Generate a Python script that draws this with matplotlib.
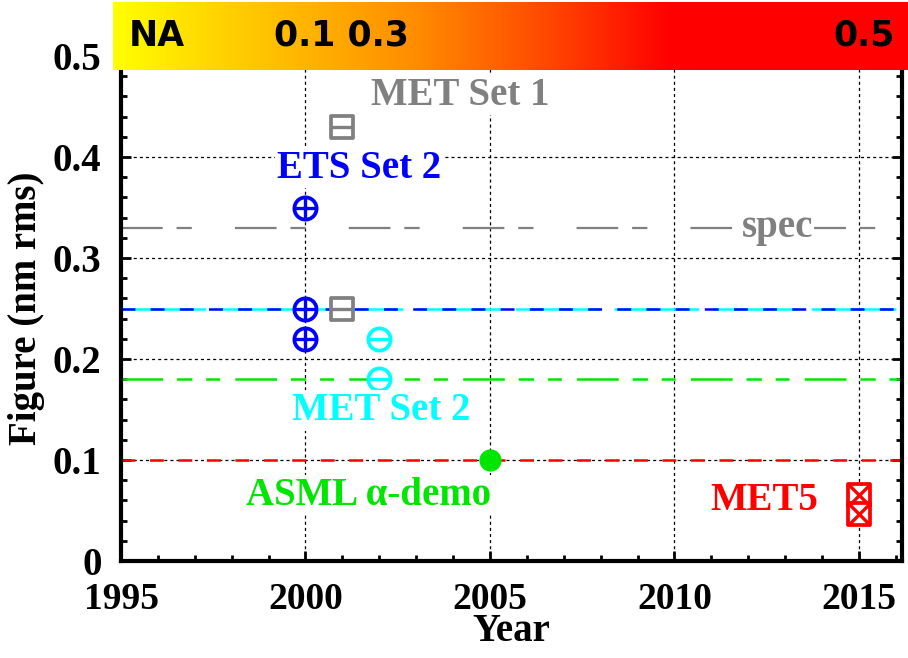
import numpy as np
import matplotlib
matplotlib.use("Agg")
import matplotlib.pyplot as plt
from matplotlib.colors import LinearSegmentedColormap
from matplotlib.markers import MarkerStyle
from matplotlib.ticker import MultipleLocator

# measured optics, figure error vs. year
ets_years = [2000, 2000, 2000]
ets_figure = [0.35, 0.25, 0.22]
met1_years = [2001, 2001]
met1_figure = [0.43, 0.25]
met2_years = [2002, 2002]
met2_figure = [0.22, 0.18]
asml_years = [2005]
asml_figure = [0.10]
met5_years = [2015, 2015]
met5_figure = [0.065, 0.047]

# specification levels
spec_met1 = 0.33
spec_ets = 0.25
spec_met2 = 0.18
spec_met5 = 0.10

na_labels = ["NA", "0.1 0.3", "0.5"]

plt.rcParams["font.family"] = ["Liberation Serif", "DejaVu Serif"]
plt.rcParams["font.weight"] = "bold"
plt.rcParams["axes.labelweight"] = "bold"
plt.rcParams["lines.scale_dashes"] = False

GRAY = "#808080"
BLUE = "#0000ff"
CYAN = "#00ffff"
GREEN = "#00e600"
RED = "#ff0000"

fig = plt.figure(figsize=(9.08, 6.58), dpi=100)
ax = fig.add_axes([0.1333, 0.1474, 0.8601, 0.7675])

# spec lines
ax.axhline(spec_met1, color=GRAY, lw=1.6, dashes=(30, 10, 11, 31), zorder=2)
ax.axhline(spec_ets, color=CYAN, lw=1.8, dashes=(61, 10), zorder=2)
ax.axhline(spec_ets, color=BLUE, lw=1.8, dashes=(10, 11), zorder=2)
ax.axhline(spec_met2, color=GREEN, lw=1.8, dashes=(30, 10, 11, 10, 10, 11), zorder=2)
ax.axhline(spec_met5, color=RED, lw=1.8, dashes=(10, 10.5), zorder=2)

ms = 16
mew = 2.7


def marker_pair(x, y, color, outer, inner, inner_ms=None):
    ax.plot(x, y, ls="none", marker=MarkerStyle(outer, joinstyle="round"),
            ms=ms, mfc="white", mec=color, mew=mew, zorder=4)
    ax.plot(x, y, ls="none", marker=inner, ms=inner_ms or ms, mec=color,
            mew=mew - 0.3, zorder=5)


marker_pair(ets_years, ets_figure, BLUE, "o", "+")
marker_pair(met1_years, met1_figure, GRAY, "s", "_")
marker_pair(met2_years, met2_figure, CYAN, "o", "_")
marker_pair(met5_years, met5_figure, RED, "s", "x", inner_ms=ms - 2)
ax.plot(asml_years, asml_figure, ls="none", marker="o", ms=15, color=GREEN,
        zorder=4)

box = dict(facecolor="white", edgecolor="none", pad=1)
ax.text(2004.2, 0.461, "MET Set 1", color=GRAY, fontsize=28, ha="center",
        va="center", bbox=box, zorder=6)
ax.text(2001.45, 0.389, "ETS Set 2", color=BLUE, fontsize=28, ha="center",
        va="center", bbox=box, zorder=6)
ax.text(2012.8, 0.33, "spec", color=GRAY, fontsize=28, ha="center",
        va="center", bbox=dict(facecolor="white", edgecolor="none", pad=0.5),
        zorder=6)
ax.text(2002.05, 0.149, "MET Set 2", color=CYAN, fontsize=28, ha="center",
        va="center", bbox=box, zorder=6)
ax.text(2001.7, 0.065, "ASML \u03b1-demo", color=GREEN, fontsize=28,
        ha="center", va="center", bbox=box, zorder=6)
ax.text(2012.45, 0.060, "MET5", color=RED, fontsize=28, ha="center",
        va="center", bbox=box, zorder=6)

ax.set_xlim(1995, 2016.17)
ax.set_ylim(0, 0.5)
ax.xaxis.set_major_locator(MultipleLocator(5))
ax.xaxis.set_minor_locator(MultipleLocator(1))
ax.yaxis.set_minor_locator(MultipleLocator(0.02))
ax.set_yticks([0, 0.1, 0.2, 0.3, 0.4, 0.5])
ax.set_yticklabels(["0", "0.1", "0.2", "0.3", "0.4", "0.5"])

ax.grid(which="major", color="black", lw=0.9, ls=(0, (2.2, 2.2)), zorder=1)
ax.set_axisbelow(True)
ax.tick_params(which="both", direction="in", right=True, top=False,
               width=2, labelsize=28)
ax.tick_params(which="major", length=7)
ax.tick_params(which="minor", length=4)
ax.tick_params(axis="y", pad=14)
ax.tick_params(axis="x", pad=15, labelsize=27)
for side in ["left", "bottom", "right"]:
    ax.spines[side].set_linewidth(3)
ax.spines["top"].set_visible(False)

ax.set_xlabel("Year", fontsize=28, labelpad=-3)
ax.set_ylabel("Figure (nm rms)", fontsize=28, labelpad=6)

# numerical aperture colour band
na_cmap = LinearSegmentedColormap.from_list("na", [
    (0.0, "#ffff00"), (0.12, "#ffd700"), (0.38, "#ff8c00"),
    (0.55, "#ff4600"), (0.70, "#ff0000"), (1.0, "#ff0000")])
cax = fig.add_axes([0.1244, 0.8936, 0.8756, 0.1034])
cax.imshow(np.linspace(0, 1, 512)[None, :], cmap=na_cmap, aspect="auto",
           extent=[0, 1, 0, 1])
cax.set_axis_off()
for label, xf in zip(na_labels, [0.055, 0.287, 0.945]):
    cax.text(xf, 0.5, label, fontsize=25, fontweight="bold",
             family=["DejaVu Sans"], ha="center", va="center")

fig.savefig("out.png", dpi=100)
